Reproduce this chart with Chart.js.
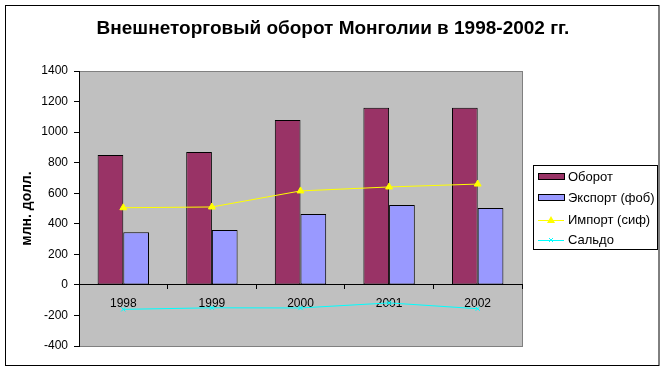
<!DOCTYPE html>
<html><head><meta charset="utf-8">
<script src="https://cdn.jsdelivr.net/npm/chart.js@4/dist/chart.umd.min.js"></script>
<style>html,body{margin:0;padding:0;background:#fff;}#wrap{width:665px;height:371px;}</style>
</head><body><div id="wrap"><canvas id="c" width="665" height="371"></canvas></div>
<script>
const years = ['1998','1999','2000','2001','2002'];
const oborot = [850, 870, 1080, 1160, 1160];
const eksport = [345, 360, 464, 523, 504];
const importSif = [505, 510, 615, 641, 660];
const saldo = [-160, -150, -151, -118, -156];
const seriesNames = ['Оборот','Экспорт (фоб)','Импорт (сиф)','Сальдо'];
const yTitle = 'млн. долл.';
const chartTitle = 'Внешнеторговый оборот Монголии в 1998-2002 гг.';
const FONT = 'Arial, "Liberation Sans", sans-serif';

const bgPlugin = {
  id: 'bg',
  beforeDraw(chart) {
    const ctx = chart.ctx, a = chart.chartArea;
    ctx.save();
    ctx.fillStyle = '#fff';
    ctx.fillRect(0,0,chart.width,chart.height);
    ctx.strokeStyle = '#000'; ctx.lineWidth = 1;
    ctx.strokeRect(5.5,5.5,653.5,360);
    ctx.fillStyle = '#C0C0C0';
    ctx.fillRect(a.left, a.top, a.right-a.left, a.bottom-a.top);
    ctx.strokeStyle = '#808080';
    ctx.strokeRect(a.left+0.5, a.top+0.5, a.right-a.left, a.bottom-a.top);
    ctx.restore();
  },
  afterDraw(chart) {
    const ctx = chart.ctx;
    ctx.save();
    ctx.fillStyle = '#000';
    ctx.font = 'bold 19px ' + FONT;
    ctx.textAlign = 'center';
    ctx.textBaseline = 'middle';
    ctx.fillText(chartTitle, 333, 29);
    ctx.textAlign = 'left';
    const bx = 533, by = 165.5, bw = 124, bh = 84;
    ctx.fillStyle = '#fff';
    ctx.fillRect(bx+0.5, by, bw, bh);
    ctx.strokeStyle = '#000'; ctx.lineWidth = 1;
    ctx.strokeRect(bx+0.5, by, bw, bh);
    const ys = [177, 198, 220, 240];
    ctx.font = '13px ' + FONT;
    ctx.textBaseline = 'middle';
    chart.data.datasets.forEach((ds, i) => {
      const y = ys[i];
      if (ds.type === 'bar') {
        ctx.fillStyle = ds.backgroundColor;
        ctx.fillRect(538.5, y-3.5, 26, 6);
        ctx.strokeStyle = '#000';
        ctx.strokeRect(538.5, y-3.5, 26, 6);
      } else {
        ctx.strokeStyle = ds.borderColor;
        ctx.beginPath(); ctx.moveTo(538, y+0.5); ctx.lineTo(564, y+0.5); ctx.stroke();
        if (ds.pointStyle === 'triangle') {
          ctx.fillStyle = ds.borderColor;
          ctx.beginPath(); ctx.moveTo(551, y-4); ctx.lineTo(555, y+3); ctx.lineTo(547, y+3); ctx.closePath(); ctx.fill();
        } else {
          ctx.beginPath();
          ctx.moveTo(549, y-2); ctx.lineTo(553, y+2);
          ctx.moveTo(553, y-2); ctx.lineTo(549, y+2);
          ctx.stroke();
        }
      }
      ctx.fillStyle = '#000';
      ctx.fillText(ds.label, 568, y);
    });
    ctx.restore();
  }
};

new Chart(document.getElementById('c'), {
  type: 'bar',
  data: {
    labels: years,
    datasets: [
      {type:'bar', label: seriesNames[0], data: oborot, backgroundColor:'#993366', borderColor:'#000', borderWidth:1, borderSkipped:false, order:2},
      {type:'bar', label: seriesNames[1], data: eksport, backgroundColor:'#9999FF', borderColor:'#000', borderWidth:1, borderSkipped:false, order:2},
      {type:'line', label: seriesNames[2], data: importSif, borderColor:'#FFFF00', backgroundColor:'#FFFF00', borderWidth:1, pointStyle:'triangle', pointRadius:4, pointBorderColor:'#FFFF00', pointBackgroundColor:'#FFFF00', tension:0, order:1},
      {type:'line', label: seriesNames[3], data: saldo, borderColor:'#00FFFF', backgroundColor:'#00FFFF', borderWidth:1, pointStyle:'crossRot', pointRadius:3, pointBorderColor:'#00FFFF', tension:0, order:1}
    ]
  },
  options: {
    responsive: false,
    animation: false,
    devicePixelRatio: 1,
    layout: { padding: { left: 0, right: 143, bottom: 25, top: 71 } },
    datasets: { bar: { categoryPercentage: 0.58, barPercentage: 1 } },
    plugins: {
      legend: { display: false },
      tooltip: { enabled: false },
      title: { display: false }
    },
    scales: {
      x: {
        position: { y: 0 },
        z: 1,
        offset: true,
        grid: { drawOnChartArea: false, drawTicks: true, tickLength: 4, offset: true, color: '#000' },
        border: { display: true, color: '#000' },
        ticks: { color: '#000', font: { family: FONT, size: 12 }, padding: 8, maxRotation: 0 }
      },
      y: {
        min: -400, max: 1400,
        afterFit(s) { s.width = 79; },
        ticks: { stepSize: 200, color: '#000', font: { family: FONT, size: 12 }, padding: 6, callback: v => String(v) },
        grid: { drawOnChartArea: false, drawTicks: true, tickLength: 5, color: '#000' },
        border: { display: true, color: '#000' },
        title: { display: true, text: yTitle, color: '#000', font: { family: FONT, size: 14, weight: 'bold' }, padding: { top: 19, bottom: 0 } }
      }
    }
  },
  plugins: [bgPlugin]
});
</script>
</body></html>
